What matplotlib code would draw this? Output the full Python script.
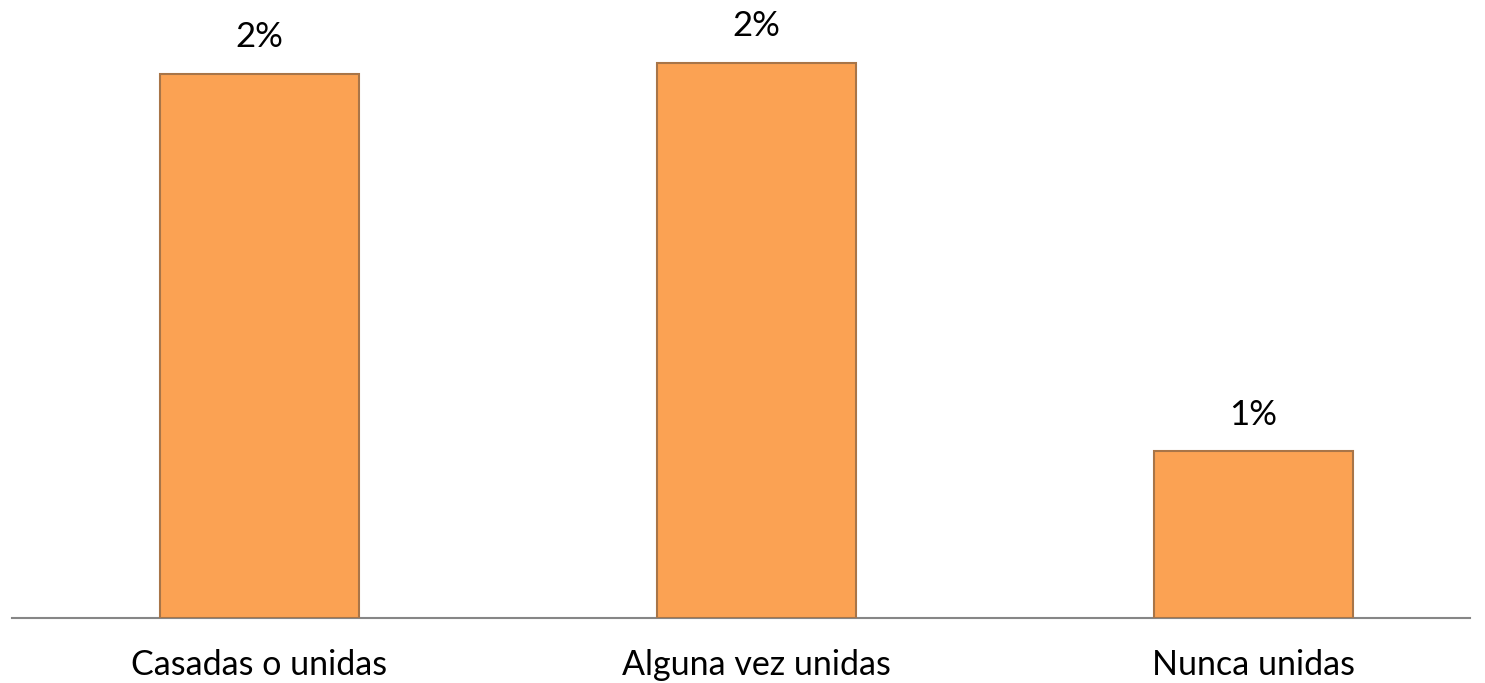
import matplotlib.pyplot as plt

categories = ['Casadas o unidas', 'Alguna vez unidas', 'Nunca unidas']
values = [1.96, 2.0, 0.6]
labels = ['2%', '2%', '1%']

plt.rcParams['font.family'] = ['Lato', 'DejaVu Sans']

fig = plt.figure(figsize=(14.85, 6.83), dpi=100)
ax = fig.add_axes([12 / 1485, 65 / 683, 1458 / 1485, 618 / 683])

x = range(len(categories))
bars = ax.bar(x, values, width=0.4, color='#FBA253', edgecolor='#A87548', linewidth=1.5, zorder=3)

for b, lab in zip(bars, labels):
    ax.annotate(lab, (b.get_x() + b.get_width() / 2, b.get_height()),
                xytext=(0, 15), textcoords='offset points',
                ha='center', va='bottom', fontsize=25, color='black')

ax.set_xlim(-0.498, 2.436)
ax.set_ylim(0, 2.227)
ax.set_xticks(list(x))
ax.set_xticklabels(categories, fontsize=24.5)
ax.tick_params(axis='x', length=0, pad=22)
ax.set_yticks([])
for s in ['top', 'right', 'left']:
    ax.spines[s].set_visible(False)
ax.spines['bottom'].set_color('#868686')
ax.spines['bottom'].set_linewidth(1.5)

fig.savefig('out.png', dpi=100)
